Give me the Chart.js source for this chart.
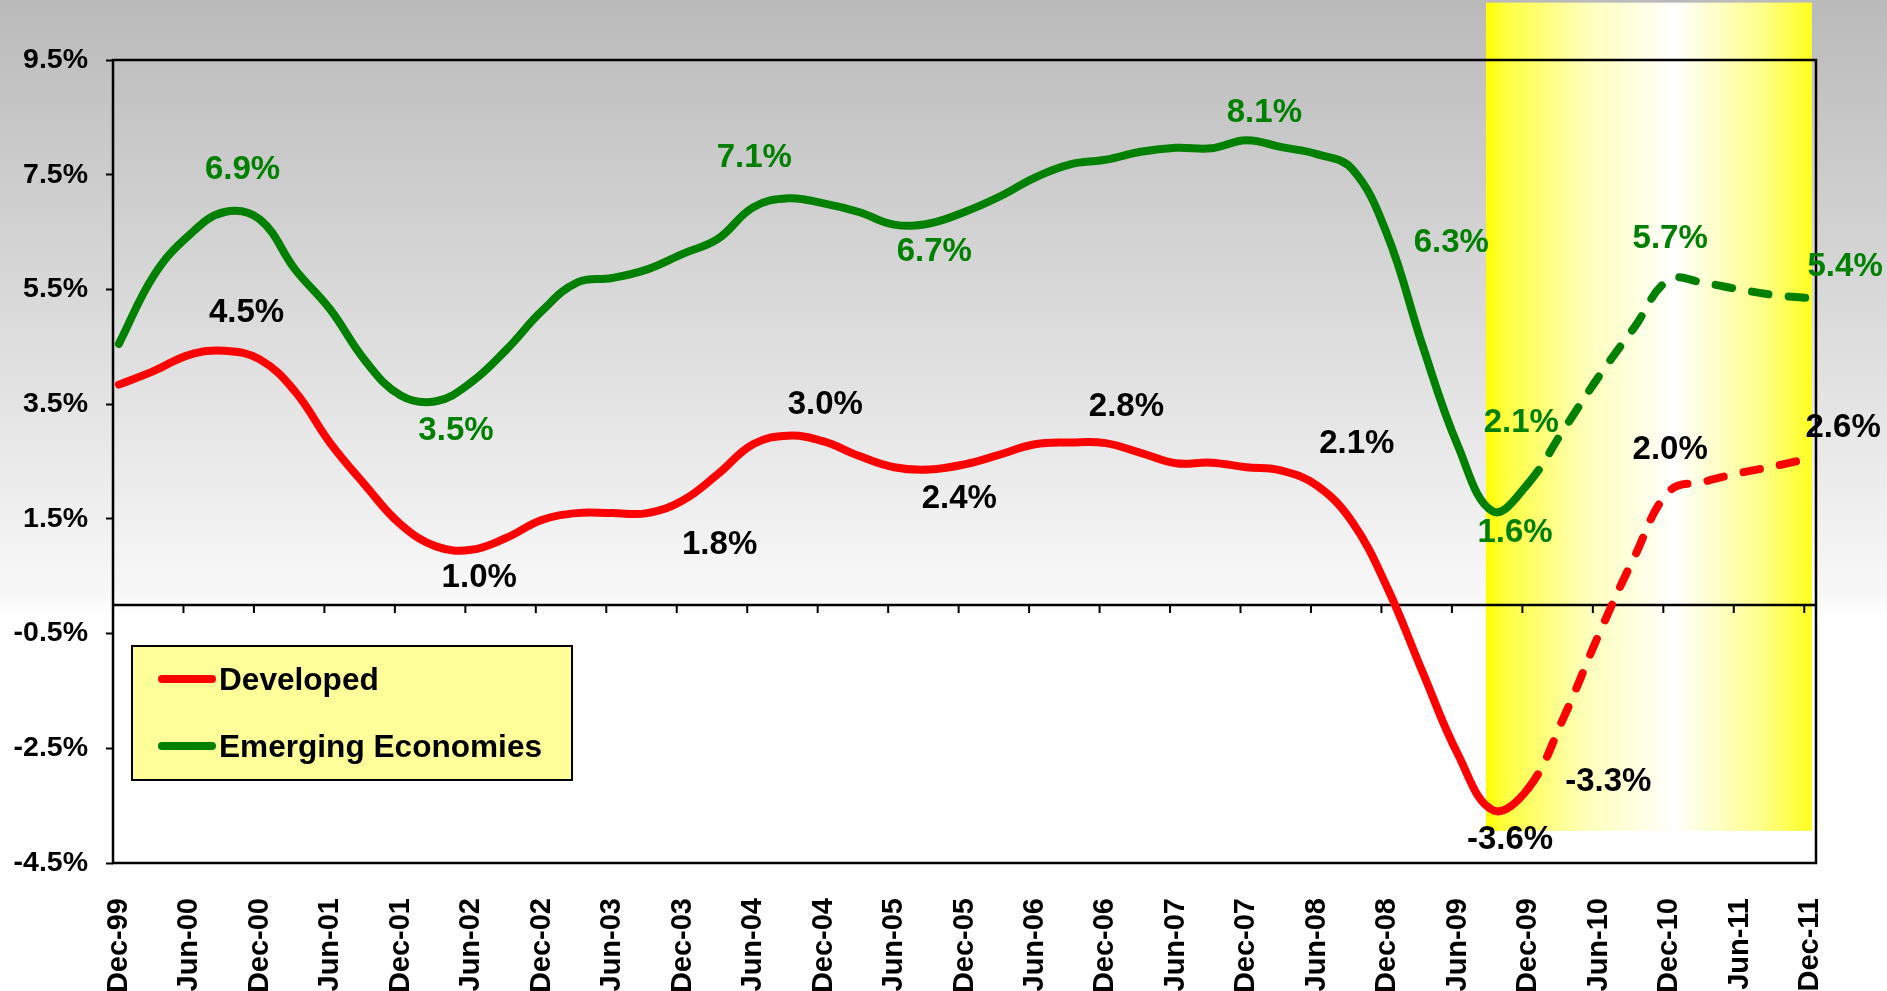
<!DOCTYPE html>
<html>
<head>
<meta charset="utf-8">
<title>GDP growth: Developed vs Emerging Economies</title>
<script src="https://cdn.jsdelivr.net/npm/chart.js@4.4.1/dist/chart.umd.min.js"></script>
<style>
  html, body { margin: 0; padding: 0; background: #fff; }
  #wrap { width: 1887px; height: 991px; }
</style>
</head>
<body>
<div id="wrap"><canvas id="growthChart" width="1887" height="991"></canvas></div>
<script>
// months counted from Dec-99 (0 = Dec-99, 3 = Mar-00, ... 144 = Dec-11)
const quarterMonths = [0, 3, 6, 9, 12, 15, 18, 21, 24, 27, 30, 33, 36, 39, 42, 45, 48, 51, 54, 57, 60, 63, 66, 69,
  72, 75, 78, 81, 84, 87, 90, 93, 96, 99, 102, 105, 108, 111, 114, 117, 120, 123, 126, 129, 132, 135, 138, 141, 144];

const developed = [3.84, 4.08, 4.36, 4.43, 4.28, 3.72, 2.82, 2.08, 1.40, 1.02, 0.96, 1.17, 1.48, 1.60, 1.60, 1.60,
  1.82, 2.28, 2.80, 2.95, 2.85, 2.60, 2.40, 2.36, 2.45, 2.62, 2.80, 2.83, 2.82, 2.65, 2.47, 2.48, 2.40, 2.34, 2.08,
  1.45, 0.30, -1.17, -2.60, -3.58, -3.20, -1.97, -0.52, 0.82, 1.98, 2.15, 2.30, 2.42, 2.56];

const emerging = [4.55, 5.75, 6.45, 6.85, 6.72, 5.85, 5.15, 4.25, 3.65, 3.55, 3.88, 4.45, 5.12, 5.62, 5.70, 5.85,
  6.12, 6.38, 6.93, 7.09, 7.00, 6.85, 6.63, 6.65, 6.85, 7.12, 7.45, 7.68, 7.76, 7.90, 7.97, 7.96, 8.10, 7.98, 7.86,
  7.60, 6.45, 4.52, 2.78, 1.63, 2.12, 3.05, 3.98, 4.83, 5.67, 5.61, 5.50, 5.40, 5.35];

// forecast starts after this point (Dec-09)
const forecastFrom = 40;

const tickMonths = [0, 6, 12, 18, 24, 30, 36, 42, 48, 54, 60, 66, 72, 78, 84, 90, 96, 102, 108, 114, 120, 126, 132, 138, 144];
const tickLabels = ['Dec-99', 'Jun-00', 'Dec-00', 'Jun-01', 'Dec-01', 'Jun-02', 'Dec-02', 'Jun-03', 'Dec-03',
  'Jun-04', 'Dec-04', 'Jun-05', 'Dec-05', 'Jun-06', 'Dec-06', 'Jun-07', 'Dec-07', 'Jun-08', 'Dec-08',
  'Jun-09', 'Dec-09', 'Jun-10', 'Dec-10', 'Jun-11', 'Dec-11'];
const yTicks = [-4.5, -2.5, -0.5, 1.5, 3.5, 5.5, 7.5, 9.5];

// value call-outs: point index and printed text
const devNoteAt = [3, 10, 16, 19, 23, 28, 34, 39, 40, 44, 48];
const devNoteText = ['4.5%', '1.0%', '1.8%', '3.0%', '2.4%', '2.8%', '2.1%', '-3.6%', '-3.3%', '2.0%', '2.6%'];
const emgNoteAt = [3, 9, 19, 23, 32, 36, 39, 40, 44, 48];
const emgNoteText = ['6.9%', '3.5%', '7.1%', '6.7%', '8.1%', '6.3%', '1.6%', '2.1%', '5.7%', '5.4%'];

// pixel offsets of the call-outs from their points
const devNoteShift = [[22, -38], [8, 28], [37, 44], [37, -31], [30, 29], [21, -36], [40, -42], [17, 30], [80, -7], [1, -41], [33, -30]];
const emgNoteShift = [[18, -42], [20, 30], [-34, -40], [5, 28], [18, -27], [64, 8], [22, 22], [-7, -60], [1, -41], [35, -31]];

// shaded forecast window, in axis units
const shadeFrom = 116.4, shadeTo = 144.15, shadeTop = 10.5, shadeBottom = -3.94;

const FONT = "'Liberation Sans', Arial, sans-serif";
const RED = '#ff0000', GREEN = '#008000';

const toPoints = vals => vals.map((v, i) => ({ x: quarterMonths[i], y: v }));

const dashAfterForecast = ctx => ctx.p0DataIndex >= forecastFrom ? [17, 20] : undefined;

const decorations = {
  id: 'decorations',
  beforeDraw(chart) {
    const { ctx, width, height, scales: { x, y } } = chart;
    ctx.save();
    const bg = ctx.createLinearGradient(0, 0, 0, height);
    bg.addColorStop(0, '#bababa');
    bg.addColorStop(0.6, '#f8f8f8');
    bg.addColorStop(0.625, '#ffffff');
    bg.addColorStop(1, '#ffffff');
    ctx.fillStyle = bg;
    ctx.fillRect(0, 0, width, height);

    const x0 = x.getPixelForValue(shadeFrom), x1 = x.getPixelForValue(shadeTo);
    const y0 = y.getPixelForValue(shadeTop), y1 = y.getPixelForValue(shadeBottom);
    const hl = ctx.createLinearGradient(x0, 0, x1, 0);
    hl.addColorStop(0, '#ffff00');
    hl.addColorStop(0.06, '#ffff40');
    hl.addColorStop(0.3, '#ffffb8');
    hl.addColorStop(0.58, '#ffffff');
    hl.addColorStop(0.85, '#ffff88');
    hl.addColorStop(1, '#ffff20');
    ctx.fillStyle = hl;
    ctx.fillRect(x0, y0, x1 - x0, y1 - y0);
    ctx.restore();
  },
  beforeDatasetsDraw(chart) {
    const { ctx, chartArea: a, scales: { x, y } } = chart;
    ctx.save();
    ctx.strokeStyle = '#000';
    ctx.lineWidth = 2.5;
    ctx.strokeRect(a.left, a.top, a.right - a.left, a.bottom - a.top);
    const y0 = y.getPixelForValue(0);
    ctx.beginPath();
    ctx.moveTo(a.left, y0);
    ctx.lineTo(a.right, y0);
    ctx.stroke();
    ctx.lineWidth = 2;
    ctx.beginPath();
    tickMonths.slice(1).forEach(m => {
      const px = x.getPixelForValue(m - 0.5);
      ctx.moveTo(px, y0);
      ctx.lineTo(px, y0 + 8);
    });
    ctx.stroke();
    ctx.restore();
  },
  afterDatasetsDraw(chart) {
    const { ctx } = chart;
    ctx.save();
    ctx.font = 'bold 33px ' + FONT;
    ctx.textAlign = 'center';
    ctx.textBaseline = 'middle';
    const put = (di, at, texts, shifts, color) => {
      const pts = chart.getDatasetMeta(di).data;
      ctx.fillStyle = color;
      at.forEach((idx, k) => {
        const p = pts[idx];
        ctx.fillText(texts[k], p.x + shifts[k][0], p.y + shifts[k][1]);
      });
    };
    put(0, devNoteAt, devNoteText, devNoteShift, '#000');
    put(1, emgNoteAt, emgNoteText, emgNoteShift, GREEN);
    ctx.restore();
  },
  afterDraw(chart) {
    // legend box, bottom left inside the plot
    const { ctx } = chart;
    ctx.save();
    ctx.fillStyle = '#ffff99';
    ctx.fillRect(132, 646, 440, 134);
    ctx.strokeStyle = '#000';
    ctx.lineWidth = 2;
    ctx.strokeRect(132, 646, 440, 134);
    ctx.font = 'bold 31.6px ' + FONT;
    ctx.textAlign = 'left';
    ctx.textBaseline = 'middle';
    chart.data.datasets.forEach((ds, i) => {
      const cy = 679 + i * 67;
      ctx.strokeStyle = ds.borderColor;
      ctx.lineWidth = 8;
      ctx.lineCap = 'round';
      ctx.beginPath();
      ctx.moveTo(162, cy);
      ctx.lineTo(212, cy);
      ctx.stroke();
      ctx.fillStyle = '#000';
      ctx.fillText(ds.label, 219, cy + 2);
    });
    ctx.restore();
  }
};

new Chart(document.getElementById('growthChart'), {
  type: 'line',
  data: {
    datasets: [
      {
        label: 'Developed',
        data: toPoints(developed),
        borderColor: RED,
        borderWidth: 8,
        borderCapStyle: 'round',
        borderJoinStyle: 'round',
        tension: 0.4,
        pointRadius: 0,
        segment: { borderDash: dashAfterForecast }
      },
      {
        label: 'Emerging Economies',
        data: toPoints(emerging),
        borderColor: GREEN,
        borderWidth: 8,
        borderCapStyle: 'round',
        borderJoinStyle: 'round',
        tension: 0.4,
        pointRadius: 0,
        segment: { borderDash: dashAfterForecast }
      }
    ]
  },
  options: {
    responsive: false,
    animation: false,
    devicePixelRatio: 1,
    layout: { padding: { top: 60, right: 71, left: 0, bottom: 0 } },
    plugins: {
      legend: { display: false },
      tooltip: { enabled: false }
    },
    scales: {
      x: {
        type: 'linear',
        min: -0.5,
        max: 144.5,
        afterBuildTicks: s => { s.ticks = tickMonths.map(v => ({ value: v })); },
        afterFit: s => { s.height = 128; },
        grid: { display: false, drawTicks: false },
        border: { display: false },
        ticks: {
          autoSkip: false,
          maxRotation: 90,
          minRotation: 90,
          padding: 35,
          color: '#000',
          font: { family: FONT, size: 29, weight: 'bold' },
          callback: v => tickLabels[tickMonths.indexOf(v)]
        }
      },
      y: {
        min: -4.5,
        max: 9.5,
        afterBuildTicks: s => { s.ticks = yTicks.map(v => ({ value: v })); },
        afterFit: s => { s.width = 113; },
        grid: { display: true, drawOnChartArea: false, drawTicks: true, tickLength: 7, tickWidth: 2, tickColor: '#000' },
        border: { display: false },
        ticks: {
          padding: 18,
          color: '#000',
          font: { family: FONT, size: 28.5, weight: 'bold' },
          callback: v => v.toFixed(1) + '%'
        }
      }
    }
  },
  plugins: [decorations]
});
</script>
</body>
</html>
